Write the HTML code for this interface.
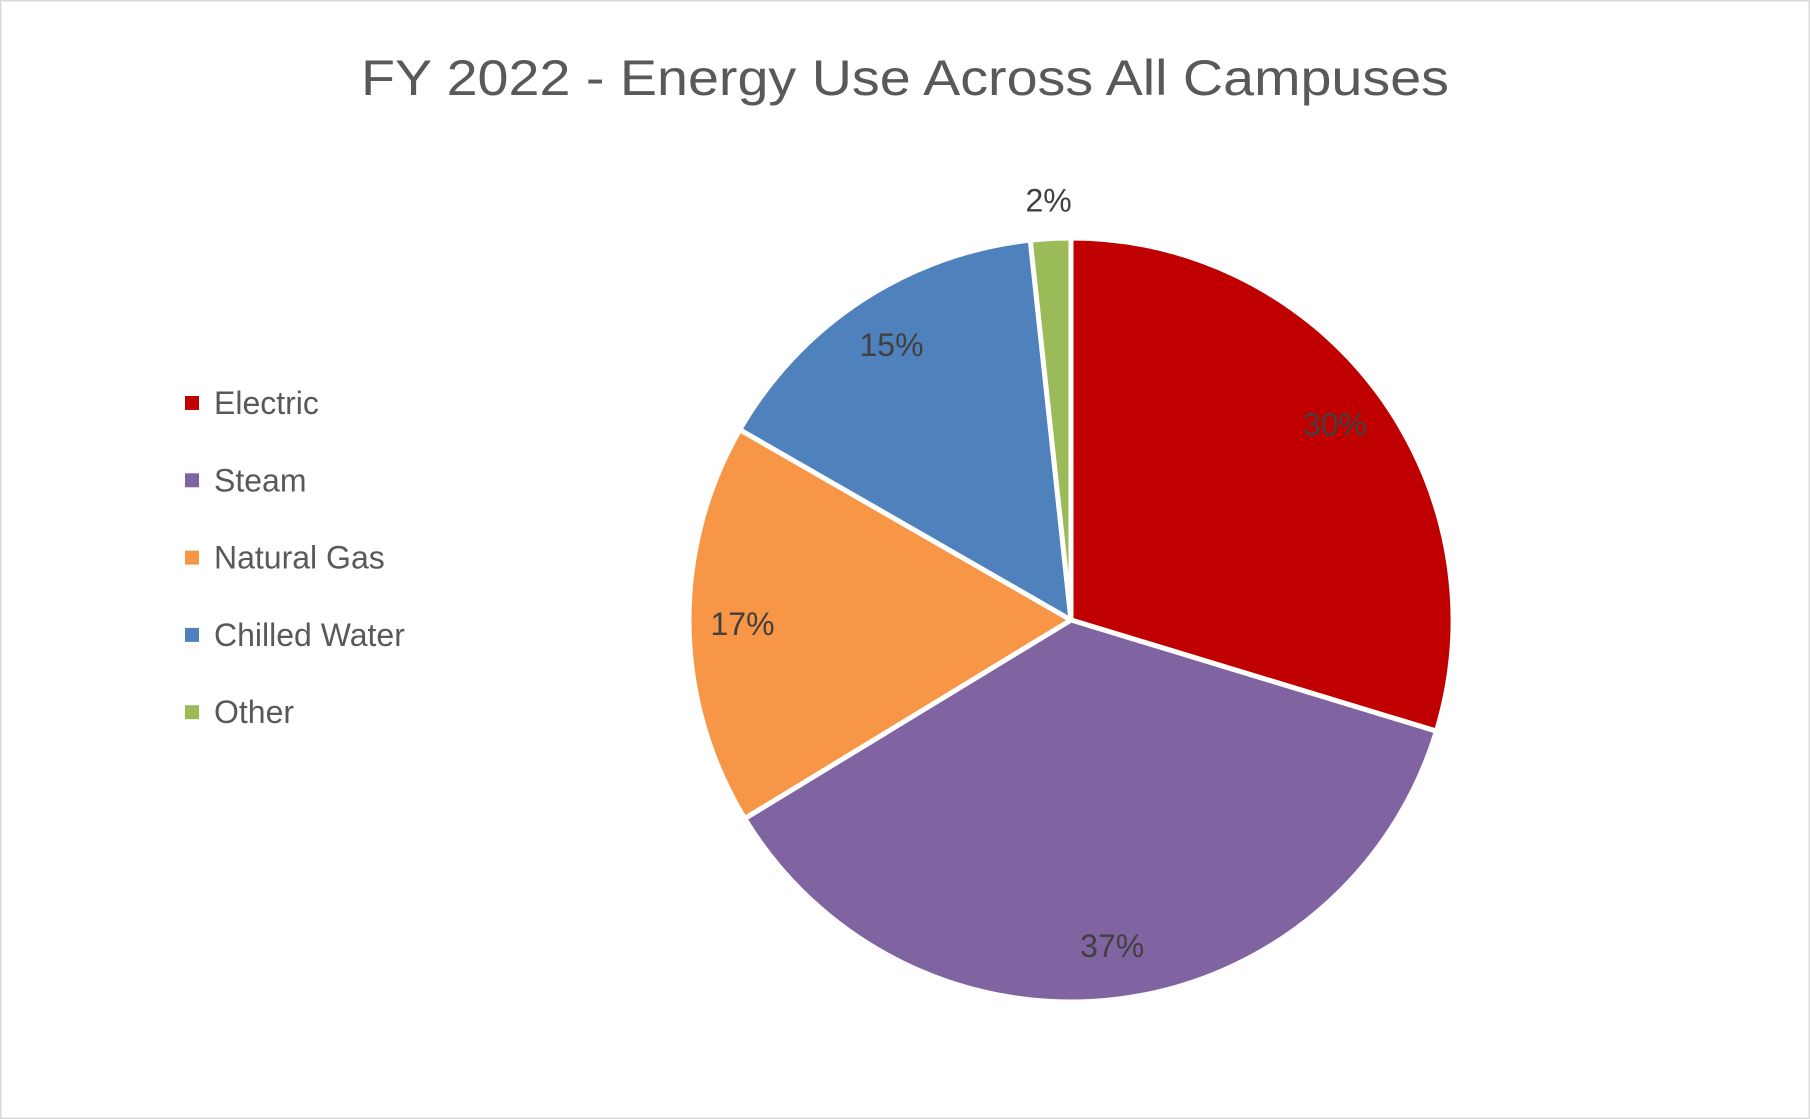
<!DOCTYPE html>
<html><head><meta charset="utf-8"><style>
html,body{margin:0;padding:0;background:#fff;}
svg{display:block;font-family:"Liberation Sans",Carlito,sans-serif;}
</style></head><body>
<svg id="chart" width="1810" height="1119" viewBox="0 0 1810 1119">
<rect x="0.5" y="0.5" width="1809" height="1118" fill="#fff" stroke="#d9d9d9" stroke-width="2"/>
<text x="905" y="95" text-anchor="middle" font-size="50" fill="#595959" textLength="1088" lengthAdjust="spacingAndGlyphs">FY 2022 - Energy Use Across All Campuses</text>
<g id="slices"></g><g id="labels"></g><g id="legend"></g>
</svg>
<script>
const categories = ["Electric","Steam","Natural Gas","Chilled Water","Other"];
const values = [29.7, 36.6, 17.0, 15.0, 1.7];
const colors = ["#C00000","#8064A2","#F79646","#4F81BD","#9BBB59"];
const ns="http://www.w3.org/2000/svg";
const cx=1071, cy=620, r=382;
const total=values.reduce((a,b)=>a+b,0);
const sl=document.getElementById('slices'), lb=document.getElementById('labels'), lg=document.getElementById('legend');
function pt(a,rad){return [cx+rad*Math.sin(a), cy-rad*Math.cos(a)];}
let acc=0;
values.forEach((v,i)=>{
  const a0=acc/total*2*Math.PI; acc+=v; const a1=acc/total*2*Math.PI;
  const p0=pt(a0,r), p1=pt(a1,r);
  const large=(a1-a0)>Math.PI?1:0;
  const path=document.createElementNS(ns,'path');
  path.setAttribute('d',`M${cx},${cy} L${p0[0]},${p0[1]} A${r},${r} 0 ${large} 1 ${p1[0]},${p1[1]} Z`);
  path.setAttribute('fill',colors[i]);path.setAttribute('stroke','#fff');path.setAttribute('stroke-width','5');path.setAttribute('stroke-linejoin','round');
  
  
  sl.appendChild(path);
  const pct=v/total*100;
  const am=(a0+a1)/2;
  const lp=pt(am, pct<5? r*1.1 : r*0.86);
  const t=document.createElementNS(ns,'text');
  t.setAttribute('x',lp[0]);t.setAttribute('y',lp[1]+11);t.setAttribute('text-anchor','middle');
  t.setAttribute('font-size','32');t.setAttribute('fill','#404040');
  t.textContent=Math.round(pct)+'%';
  
  
  lb.appendChild(t);
  const ly=403+i*77.3;
  const g=document.createElementNS(ns,'g');
  
  
  const sq=document.createElementNS(ns,'rect');
  sq.setAttribute('x',185);sq.setAttribute('y',ly-7);sq.setAttribute('width',14);sq.setAttribute('height',14);sq.setAttribute('fill',colors[i]);
  
  
  const lt=document.createElementNS(ns,'text');
  lt.setAttribute('x',214);lt.setAttribute('y',ly+11);lt.setAttribute('font-size','32');lt.setAttribute('fill','#595959');
  lt.textContent=categories[i];
  
  
  g.appendChild(sq);g.appendChild(lt);lg.appendChild(g);
});
</script>
</body></html>
